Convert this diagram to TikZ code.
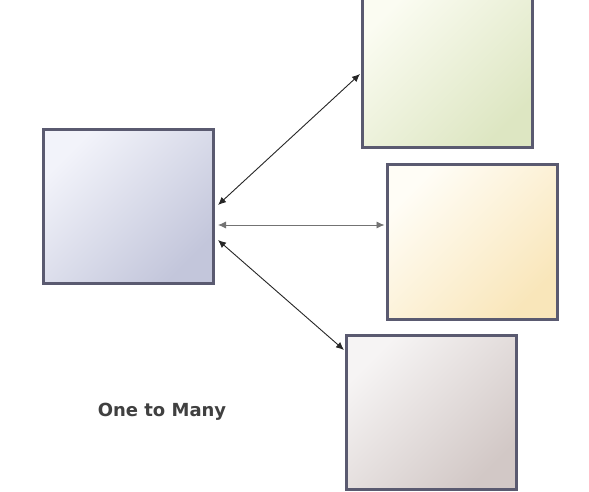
\documentclass[tikz,border=0pt]{standalone}
\usepackage{fontspec}
\newfontfamily\labelfont{DejaVu Sans}
\usetikzlibrary{arrows.meta,calc}
\definecolor{edgecol}{HTML}{5A5A70}
\definecolor{lA}{HTML}{F2F3FA}\definecolor{dA}{HTML}{C3C6DB}
\definecolor{lB}{HTML}{FBFCF2}\definecolor{dB}{HTML}{DDE6C2}
\definecolor{lC}{HTML}{FFFDF6}\definecolor{dC}{HTML}{F9E6BA}
\definecolor{lD}{HTML}{F6F4F4}\definecolor{dD}{HTML}{D2C8C6}
\tikzset{
  box/.style={draw=edgecol, line width=3pt, minimum width=170pt, minimum height=154pt, inner sep=0pt},
  link/.style={draw=black!85, line width=0.9pt, {Latex[length=8pt,width=7pt]}-{Latex[length=8pt,width=7pt]}}
}
\begin{document}
\begin{tikzpicture}[x=1pt,y=-1pt]
\useasboundingbox (0,0) rectangle (589,492);
\clip (0,0) rectangle (589,492);
\fill[white] (0,0) rectangle (589,492);
\node[box, left color=lA, right color=dA, shading angle=45] (L) at (128.5,206.5) {};
\node[box, left color=lB, right color=dB, shading angle=45, minimum height=162pt] (A) at (447.5,67) {};
\node[box, left color=lC, right color=dC, shading angle=45] (B) at (472,242) {};
\node[box, left color=lD, right color=dD, shading angle=45] (C) at (431.5,412.5) {};
\draw[link] ([xshift=3pt,yshift=1.5pt]L.east) -- ([xshift=-1pt,yshift=-7pt]A.west);
\draw[link, draw=black!55] ([xshift=3pt,yshift=-18.5pt]L.east) -- ([xshift=-1pt,yshift=17pt]B.west);
\draw[link] ([xshift=3pt,yshift=-33.5pt]L.east) -- ([xshift=-1pt,yshift=-16pt]C.north west);
\node[font=\labelfont\bfseries\fontsize{18}{21}\selectfont, text=black!75] (T) at (162,412) {One to Many};
\end{tikzpicture}
\end{document}
